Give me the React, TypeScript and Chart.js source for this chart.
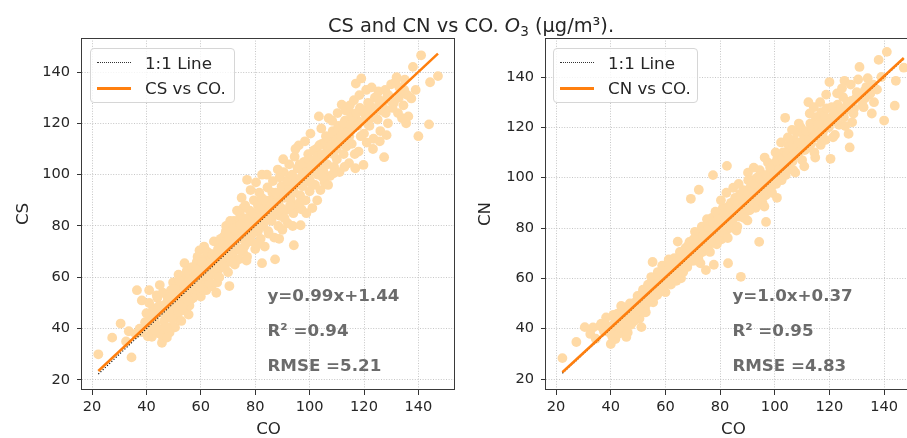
import React, { useEffect, useRef } from 'react';
import { Chart, registerables } from 'chart.js';

Chart.register(...registerables);

// ---- data ----
// CO values shared by both panels (x axis)
const coValues: number[] = [
  22.3, 27.4, 30.5, 33.5, 32.5, 34.5, 36.0,
  36.5, 38.3, 38.3, 40.0, 41.0, 41.7, 42.0, 43.0, 44.5, 44.9, 45.6, 45.7, 39.5, 42.5, 44.0, 40.5, 43.5, 46.5, 47.0, 45.0, 37.5, 41.5, 47.5,
  48.0, 48.5, 49.0, 49.5, 50.0, 50.5, 51.0, 51.2, 51.5, 52.0, 52.5, 53.0, 53.5, 54.0, 54.5, 55.0, 55.3, 55.5, 56.0, 56.5, 57.0, 49.0, 52.0, 54.0, 56.0,
  57.5, 58.0, 58.5, 59.0, 59.5, 60.0, 60.5, 61.0, 61.5, 62.0, 62.5, 63.0, 63.5, 64.0, 64.5, 65.0, 65.7, 66.0, 66.5, 67.0, 58.0, 60.0, 62.0, 64.0, 66.0,
  67.5, 68.0, 68.5, 69.0, 69.3, 69.5, 70.0, 70.5, 71.0, 71.5, 72.0, 72.2, 72.5, 73.0, 73.5, 74.0, 74.5, 74.8, 75.0, 75.5, 75.6, 76.0, 76.5, 77.0, 77.0, 77.4, 77.7, 68.0, 70.0, 72.0, 74.0, 76.0,
  78.0, 78.5, 79.0, 79.5, 80.0, 80.5, 81.0, 81.5, 82.0, 82.5, 82.5, 82.9, 83.0, 83.5, 84.0, 84.5, 85.0, 85.5, 86.0, 86.5, 87.0, 87.3, 87.6, 88.0, 88.5, 89.0, 89.5, 90.0, 90.2, 79.0, 81.0, 83.0, 85.0, 87.0, 89.0,
  90.5, 91.0, 91.5, 92.0, 92.5, 93.0, 93.5, 94.0, 94.2, 94.3, 94.5, 95.0, 95.5, 96.0, 96.5, 96.7, 96.8, 97.0, 97.5, 98.0, 98.5, 99.0, 99.5, 100.0, 100.5, 101.0, 101.5, 92.0, 95.0, 98.0, 100.0,
  102.0, 102.5, 103.0, 103.4, 103.8, 104.0, 104.5, 105.0, 105.5, 106.0, 106.5, 107.0, 107.5, 108.0, 108.5, 109.0, 109.5, 110.0, 110.5, 111.0, 111.8, 112.3, 112.5, 113.0, 113.5, 114.0, 114.5, 115.0, 104.0, 106.0, 108.0, 110.0, 112.0,
  115.5, 116.0, 116.8, 117.0, 117.5, 118.0, 118.5, 119.0, 119.8, 120.0, 120.4, 121.0, 121.5, 122.0, 123.0, 123.5, 124.0, 125.0, 125.3, 125.5, 126.0, 127.0, 127.4, 128.0, 128.3, 129.0, 130.0, 122.5, 126.5,
  131.0, 131.5, 132.5, 133.5, 134.5, 135.5, 136.3, 137.4, 138.0, 139.0, 140.0, 141.0, 143.9, 144.3, 147.2, 133.0, 136.0,
  41.0, 42.8, 43.8, 46.0, 46.2, 47.8, 48.5, 49.8, 50.6, 51.8, 52.8, 53.8, 54.8, 55.8, 56.8, 57.2, 58.8, 59.2, 60.8, 61.2,
  62.8, 63.2, 64.8, 65.3, 66.8, 67.3, 68.8, 69.2, 70.8, 71.3, 72.8, 73.3, 74.3, 75.2, 76.3, 76.8, 78.3, 78.8, 80.3, 80.8,
  82.3, 82.8, 84.3, 84.8, 86.3, 86.8, 88.3, 88.8, 90.3, 90.8, 92.3, 92.8, 94.8, 93.8, 96.3, 96.2, 98.3, 98.8, 100.3, 100.8,
  102.3, 102.8, 104.3, 104.8, 106.3, 106.8, 108.3, 108.8, 110.3, 110.8, 112.8, 113.3, 114.3, 114.8, 116.3, 116.6, 118.3, 118.8, 120.8, 121.3,
  122.8, 123.3, 124.6, 125.8, 127.8, 128.8, 130.5, 132.0, 134.0, 135.0,
  42.2, 45.3, 48.2, 51.3, 54.2, 57.3, 60.2, 63.3, 66.2, 69.6, 72.6, 75.3, 78.6, 81.3, 84.6,
  87.8, 90.6, 93.3, 96.6, 99.3, 102.6, 105.3, 108.6, 111.3, 114.6, 117.6, 120.6, 123.6, 126.6, 129.6,
  43.2, 44.8, 46.8, 47.3, 48.8, 49.3, 50.3, 51.6, 52.2, 53.2, 53.6, 55.2,
  56.2, 57.6, 58.3, 59.6, 60.6, 61.6, 62.3, 63.7, 64.3, 65.6, 66.3, 67.7,
  68.3, 69.8, 70.3, 71.7, 72.3, 73.7, 74.6, 75.8, 76.6, 77.5, 78.2, 79.3,
  80.2, 81.7, 82.6, 83.7, 84.2, 85.7, 86.6, 87.6, 88.6, 89.7, 90.8, 91.7,
  92.6, 93.6, 94.7, 95.6, 96.9, 97.7, 98.6, 99.7, 100.6, 101.6, 102.9, 103.6,
  104.6, 105.8, 106.7, 107.8, 108.7, 109.7, 110.7, 111.6, 112.6, 113.7, 114.9, 115.8,
  117.3, 118.6, 119.5, 121.8, 122.2, 124.3, 125.2, 127.2, 128.6, 130.2, 132.8, 134.8,
];

// CS values (left panel, y axis)
const csValues: number[] = [
  30.0, 36.5, 42.0, 39.0, 35.0, 28.8, 38.0,
  55.0, 51.0, 38.7, 46.0, 55.0, 40.0, 36.8, 44.0, 38.2, 57.0, 37.5, 34.5, 42.5, 48.0, 52.0, 37.0, 41.5, 43.0, 49.5, 46.5, 40.0, 43.0, 36.5,
  51.0, 45.0, 55.0, 41.0, 48.0, 40.5, 58.0, 44.0, 52.0, 46.5, 55.5, 50.0, 60.0, 65.5, 47.0, 53.0, 58.5, 45.5, 61.0, 51.5, 56.0, 47.5, 53.5, 50.0, 55.0,
  62.0, 54.0, 66.0, 58.5, 70.5, 52.5, 62.5, 57.0, 67.5, 55.0, 63.5, 60.0, 69.0, 56.5, 65.0, 61.0, 54.0, 68.0, 63.0, 72.0, 59.5, 64.5, 59.0, 62.5, 58.0,
  64.0, 70.5, 76.0, 66.5, 80.0, 73.0, 62.0, 56.6, 78.0, 68.5, 74.0, 82.0, 65.0, 79.5, 71.0, 67.0, 84.0, 75.5, 91.0, 70.0, 87.0, 79.0, 73.0, 98.0, 68.0, 82.5, 76.5, 67.5, 71.5, 70.0, 76.0, 72.0,
  86.0, 74.0, 81.0, 90.0, 71.0, 84.0, 78.0, 93.0, 75.0, 65.5, 100.0, 88.0, 80.0, 72.0, 86.5, 95.0, 77.0, 90.0, 82.0, 97.5, 75.5, 67.0, 85.0, 92.0, 80.0, 99.0, 87.0, 78.5, 94.0, 77.0, 88.0, 84.0, 83.0, 89.0, 84.0,
  101.0, 86.0, 95.0, 81.0, 104.0, 90.5, 99.0, 85.0, 72.5, 93.0, 107.0, 88.0, 97.0, 111.4, 92.0, 80.3, 102.0, 86.5, 95.5, 105.0, 90.0, 99.0, 108.0, 93.5, 101.0, 87.0, 104.5, 93.0, 96.0, 97.0, 98.0,
  96.0, 110.0, 100.0, 122.7, 105.0, 94.0, 112.0, 101.5, 97.0, 115.0, 104.0, 122.0, 99.5, 109.0, 117.0, 103.0, 112.5, 106.0, 119.0, 101.0, 127.3, 114.0, 108.0, 121.0, 111.0, 117.5, 104.5, 124.0, 104.0, 108.0, 113.0, 110.0, 118.0,
  112.0, 118.5, 102.5, 135.5, 121.0, 109.0, 126.0, 137.5, 103.8, 116.0, 123.5, 112.5, 128.0, 119.0, 124.5, 114.0, 130.0, 121.5, 132.4, 126.5, 117.0, 128.5, 106.8, 124.0, 115.4, 131.0, 135.2, 122.0, 125.0,
  128.0, 136.0, 124.0, 131.5, 127.0, 120.0, 122.7, 129.7, 142.0, 133.0, 115.0, 146.5, 119.6, 136.0, 138.4, 134.0, 131.0,
  50.0, 46.0, 53.0, 54.0, 40.0, 52.0, 38.5, 58.0, 50.5, 61.0, 43.0, 57.0, 62.5, 49.0, 64.0, 52.0, 68.0, 61.0, 55.0, 72.0,
  66.0, 58.0, 74.0, 67.0, 60.0, 75.0, 64.0, 78.0, 82.0, 66.0, 76.5, 86.0, 70.5, 81.0, 88.0, 66.5, 94.0, 79.0, 97.0, 73.0,
  91.0, 81.0, 100.0, 78.0, 93.0, 84.5, 102.0, 75.0, 106.0, 83.0, 98.0, 88.0, 110.0, 80.0, 104.0, 89.0, 113.0, 85.0, 116.0, 96.5,
  106.0, 90.0, 118.0, 99.0, 111.0, 96.0, 121.0, 100.5, 124.0, 113.5, 103.0, 125.0, 112.0, 127.0, 129.0, 108.0, 131.0, 115.0, 133.0, 120.0,
  134.0, 110.0, 126.0, 113.0, 133.0, 120.0, 126.0, 138.0, 122.0, 137.0,
  43.5, 47.5, 49.5, 53.5, 56.0, 59.0, 61.5, 65.5, 66.0, 71.0, 73.0, 77.5, 79.5, 83.0, 85.5,
  89.0, 91.5, 94.5, 97.5, 101.5, 103.5, 107.0, 108.0, 112.0, 115.0, 119.0, 121.0, 123.0, 127.5, 129.0,
  39.5, 49.0, 45.5, 40.5, 52.5, 44.0, 55.5, 46.5, 58.5, 48.5, 53.5, 51.0,
  58.0, 55.5, 63.0, 56.0, 66.0, 60.5, 70.0, 62.0, 69.0, 64.0, 71.0, 67.0,
  73.5, 69.0, 75.5, 72.5, 79.0, 75.0, 80.5, 76.0, 83.0, 79.5, 82.5, 85.0,
  80.0, 86.5, 84.0, 90.0, 82.5, 88.0, 86.0, 93.0, 88.5, 95.5, 91.0, 97.5,
  94.0, 100.0, 96.5, 102.5, 99.0, 104.0, 101.0, 106.0, 103.5, 109.5, 107.0, 111.5,
  108.0, 112.5, 114.5, 111.5, 116.0, 113.5, 117.5, 115.0, 120.0, 116.5, 119.5, 122.5,
  124.0, 120.5, 125.0, 124.5, 127.0, 125.5, 129.5, 126.0, 130.5, 128.5, 130.0, 133.0,
];

// CN values (right panel, y axis)
const cnValues: number[] = [
  28.3, 34.7, 40.6, 40.5, 37.9, 36.0, 41.0,
  42.0, 44.5, 41.5, 33.9, 45.5, 35.9, 40.0, 44.0, 42.0, 48.5, 39.0, 36.7, 38.5, 46.0, 47.0, 37.0, 41.0, 44.5, 50.0, 43.0, 39.0, 42.5, 42.0,
  47.5, 49.0, 50.5, 46.0, 51.0, 44.0, 52.5, 40.6, 54.0, 49.5, 48.0, 55.5, 53.0, 57.0, 52.0, 58.5, 66.5, 50.5, 55.0, 60.0, 53.5, 45.0, 51.0, 56.0, 57.5,
  58.0, 61.5, 56.0, 63.0, 59.5, 54.5, 65.5, 60.5, 62.0, 57.5, 67.0, 61.0, 64.5, 59.0, 74.6, 63.5, 60.0, 68.5, 62.5, 66.0, 58.5, 62.5, 64.0, 66.0, 64.5,
  67.5, 70.0, 66.5, 72.5, 91.6, 69.0, 74.0, 67.0, 71.5, 76.5, 68.0, 95.2, 73.5, 78.0, 70.5, 75.5, 80.0, 63.3, 77.5, 72.0, 82.0, 76.0, 79.5, 84.0, 74.0, 101.0, 65.4, 64.5, 70.0, 72.0, 73.0, 78.0,
  80.5, 77.0, 85.0, 79.0, 83.0, 75.5, 88.0, 81.5, 78.0, 104.7, 86.5, 66.0, 84.0, 80.0, 90.0, 82.5, 87.0, 92.0, 79.0, 89.0, 84.5, 93.5, 60.6, 88.0, 95.0, 86.0, 91.0, 83.0, 102.0, 76.0, 82.0, 88.5, 85.5, 90.5, 87.5,
  92.5, 96.0, 89.0, 99.0, 94.0, 88.0, 100.0, 92.0, 97.0, 74.5, 103.0, 95.5, 90.0, 101.0, 97.5, 93.0, 82.4, 99.5, 106.0, 96.0, 102.5, 94.0, 100.5, 105.0, 97.5, 108.0, 100.0, 92.0, 98.0, 99.0, 101.0,
  103.5, 99.0, 110.0, 106.0, 123.8, 101.0, 108.5, 113.0, 104.0, 110.5, 106.5, 115.0, 102.0, 118.0, 109.0, 112.5, 120.0, 107.0, 114.0, 111.0, 117.0, 130.0, 112.0, 121.5, 115.5, 119.0, 110.0, 124.0, 105.5, 107.5, 110.0, 113.0, 116.5,
  116.0, 122.0, 113.0, 126.0, 118.5, 124.5, 115.0, 127.5, 120.0, 138.0, 107.5, 122.5, 125.0, 117.0, 129.0, 121.0, 126.5, 132.0, 124.0, 138.5, 127.0, 117.4, 112.0, 130.5, 122.0, 127.5, 134.0, 124.0, 128.5,
  144.0, 131.0, 128.0, 136.0, 133.0, 125.5, 130.0, 135.0, 146.8, 140.0, 122.7, 150.0, 128.6, 138.5, 143.7, 131.5, 137.0,
  45.0, 38.0, 49.0, 45.5, 38.5, 46.0, 43.0, 53.0, 47.0, 55.5, 46.5, 51.5, 60.5, 54.0, 56.5, 62.5, 65.0, 57.0, 63.5, 67.5,
  59.5, 68.0, 61.5, 70.5, 65.0, 72.0, 74.5, 68.0, 78.5, 70.5, 66.0, 80.5, 77.0, 83.5, 70.5, 81.0, 86.5, 73.5, 91.0, 78.5,
  94.0, 76.0, 85.0, 96.0, 80.5, 97.5, 91.5, 84.0, 99.0, 87.0, 104.0, 90.5, 95.0, 93.5, 108.0, 88.5, 104.0, 96.5, 110.0, 92.0,
  114.0, 100.5, 104.0, 116.0, 119.0, 103.0, 112.0, 121.5, 117.5, 104.5, 125.5, 113.5, 128.0, 108.0, 119.5, 130.0, 121.0, 133.0, 128.0, 116.0,
  133.5, 125.5, 135.5, 120.5, 137.0, 125.5, 139.0, 129.0, 139.5, 133.5,
  43.0, 46.0, 48.5, 51.5, 55.0, 58.5, 61.0, 63.5, 67.5, 70.5, 73.0, 76.5, 80.0, 82.0, 86.5,
  88.5, 92.0, 94.5, 98.0, 100.5, 103.0, 106.5, 111.0, 113.0, 116.5, 118.0, 123.0, 125.0, 130.0, 131.5,
  40.5, 42.5, 48.0, 41.5, 44.0, 50.5, 48.0, 53.0, 46.5, 50.0, 57.5, 52.5,
  53.0, 60.5, 55.5, 60.0, 58.0, 65.0, 61.5, 66.5, 62.0, 69.0, 65.5, 68.5,
  73.0, 67.0, 75.5, 72.5, 69.5, 77.0, 74.5, 80.5, 75.0, 82.0, 78.5, 83.5,
  81.0, 86.0, 83.0, 88.5, 84.0, 90.5, 86.0, 92.5, 89.0, 94.5, 90.0, 95.0,
  97.5, 93.0, 99.5, 96.5, 101.0, 98.5, 103.5, 101.5, 106.5, 103.0, 107.5, 104.5,
  109.5, 108.0, 111.5, 109.5, 114.0, 111.0, 115.5, 118.5, 114.5, 119.5, 117.5, 121.0,
  118.5, 124.0, 121.5, 126.0, 122.5, 127.5, 125.5, 129.0, 127.0, 132.5, 134.5, 135.5,
];

const tickValues: number[] = [20, 40, 60, 80, 100, 120, 140];

const csFit = { slope: 0.99, intercept: 1.44 };
const cnFit = { slope: 1.0, intercept: 0.37 };

const csStats: string[] = ['y=0.99x+1.44', 'R² =0.94', 'RMSE =5.21'];
const cnStats: string[] = ['y=1.0x+0.37', 'R² =0.95', 'RMSE =4.83'];

// ---- styles / layout ----
const FONT = 'DejaVu Sans';
const TEXT = '#262626';
const POINT = '#ffdaa6';
const ORANGE = '#ff7f0e';
const STAT_COLOR = '#6b6b6b';
const statFractions = [0.264, 0.165, 0.066];
const X_RANGE = { min: 16.3, max: 153.5 };

type Fit = { slope: number; intercept: number };

function makeStatsPlugin(lines: string[]) {
  return {
    id: 'stats',
    afterDatasetsDraw(chart: any) {
      const { ctx, chartArea } = chart;
      const { left, right, top, bottom } = chartArea;
      const w = right - left;
      const h = bottom - top;
      ctx.save();
      ctx.font = `bold 16.7px "${FONT}"`;
      ctx.fillStyle = STAT_COLOR;
      ctx.textAlign = 'left';
      ctx.textBaseline = 'middle';
      lines.forEach((t, i) => ctx.fillText(t, left + 0.497 * w, bottom - statFractions[i] * h));
      ctx.restore();
    },
  };
}

const framePlugin = {
  id: 'frame',
  afterDraw(chart: any) {
    const { ctx, chartArea } = chart;
    const { left, right, top, bottom } = chartArea;
    ctx.save();
    ctx.strokeStyle = '#3a3a3a';
    ctx.lineWidth = 1;
    ctx.strokeRect(Math.round(left) - 0.5, Math.round(top) + 0.5, Math.round(right - left), Math.round(bottom - top) - 1);
    ctx.restore();
  },
};

type PanelProps = {
  left: number;
  width: number;
  yValues: number[];
  fit: Fit;
  stats: string[];
  yLabel: string;
  seriesLabel: string;
  yMin: number;
  yMax: number;
  padRight: number;
  yAxisWidth: number;
  yTitlePad: number;
};

function Panel(p: PanelProps) {
  const ref = useRef<HTMLCanvasElement>(null);
  useEffect(() => {
    if (!ref.current) return;
    const n = Math.min(coValues.length, p.yValues.length);
    const xs = coValues.slice(0, n);
    const xMin = Math.min(...xs);
    const xMax = Math.max(...xs);
    const tickFont = { family: FONT, size: 14.6 };
    const titleFont = { family: FONT, size: 16.7, lineHeight: 1 };
    const gridOpts = {
      color: '#b8b8b8',
      lineWidth: 0.8,
      drawTicks: true,
      tickLength: 5,
      tickColor: '#333333',
      tickWidth: 1,
      tickBorderDash: [],
    };
    const chart = new Chart(ref.current, {
      type: 'scatter',
      data: {
        datasets: [
          {
            label: '1:1 Line',
            data: [{ x: xMin, y: xMin }, { x: xMax, y: xMax }],
            showLine: true,
            borderColor: '#1a1a1a',
            borderWidth: 1.2,
            borderDash: [1.2, 1.8],
            pointRadius: 0,
            order: 2,
          },
          {
            label: p.seriesLabel,
            data: [
              { x: xMin, y: p.fit.slope * xMin + p.fit.intercept },
              { x: xMax, y: p.fit.slope * xMax + p.fit.intercept },
            ],
            showLine: true,
            borderColor: ORANGE,
            borderWidth: 2.5,
            pointRadius: 0,
            order: 1,
          },
          {
            label: 'points',
            data: xs.map((x, i) => ({ x, y: p.yValues[i] })),
            backgroundColor: POINT,
            borderWidth: 0,
            pointRadius: 4.9,
            order: 3,
          },
        ],
      } as any,
      options: {
        animation: false,
        responsive: false,
        events: [],
        layout: { padding: { top: 38, right: p.padRight, bottom: 0, left: 0 } },
        plugins: { legend: { display: false }, tooltip: { enabled: false }, title: { display: false } },
        scales: {
          x: {
            type: 'linear',
            min: X_RANGE.min,
            max: X_RANGE.max,
            afterBuildTicks: (s: any) => {
              s.ticks = tickValues.map((v) => ({ value: v }));
            },
            afterFit: (s: any) => {
              s.height = 48;
            },
            ticks: { font: tickFont, color: TEXT, padding: 3.7, maxRotation: 0, callback: (v: any) => String(v) },
            grid: gridOpts,
            border: { display: false, dash: [1, 1.6] },
            title: { display: true, text: 'CO', font: titleFont, color: TEXT, padding: { top: 0, bottom: 0 } },
          },
          y: {
            type: 'linear',
            min: p.yMin,
            max: p.yMax,
            afterBuildTicks: (s: any) => {
              s.ticks = tickValues.map((v) => ({ value: v }));
            },
            afterFit: (s: any) => {
              s.width = p.yAxisWidth;
            },
            ticks: { font: tickFont, color: TEXT, padding: 7, callback: (v: any) => String(v) },
            grid: gridOpts,
            border: { display: false, dash: [1, 1.6] },
            title: { display: true, text: p.yLabel, font: titleFont, color: TEXT, padding: { top: p.yTitlePad, bottom: 0 } },
          },
        },
      } as any,
      plugins: [makeStatsPlugin(p.stats), framePlugin],
    });
    return () => chart.destroy();
  }, []);
  return (
    <canvas
      ref={ref}
      width={p.width}
      height={438}
      style={{ position: 'absolute', left: p.left, top: 0, width: p.width, height: 438, display: 'block' }}
    />
  );
}

function Legend(props: { left: number; label: string }) {
  const rowText = (top: number, text: string) => (
    <div
      style={{
        position: 'absolute',
        left: 54,
        top: top - 10,
        height: 20,
        lineHeight: '20px',
        fontSize: 16.7,
        color: TEXT,
        whiteSpace: 'nowrap',
      }}
    >
      {text}
    </div>
  );
  return (
    <div
      style={{
        position: 'absolute',
        left: props.left,
        top: 48,
        width: 145,
        height: 55,
        boxSizing: 'border-box',
        border: '1px solid #d6d6d6',
        borderRadius: 4,
        background: 'rgba(255,255,255,0.8)',
        fontFamily: FONT,
      }}
    >
      <div style={{ position: 'absolute', left: 6, top: 13, width: 34, height: 0, borderTop: '1.2px dotted #333' }} />
      {rowText(13.7, '1:1 Line')}
      <div style={{ position: 'absolute', left: 6, top: 38.2, width: 34, height: 2.5, background: ORANGE }} />
      {rowText(39.3, props.label)}
    </div>
  );
}

export default function App() {
  return (
    <div
      style={{
        position: 'fixed',
        left: 0,
        top: 0,
        width: 907,
        height: 438,
        overflow: 'hidden',
        background: '#ffffff',
        fontFamily: FONT,
      }}
    >
      <Panel
        left={0}
        width={460}
        yValues={csValues}
        fit={csFit}
        stats={csStats}
        yLabel="CS"
        seriesLabel="CS vs CO."
        yMin={16.1}
        yMax={153.25}
        padRight={3}
        yAxisWidth={82}
        yTitlePad={15}
      />
      <Panel
        left={460}
        width={470}
        yValues={cnValues}
        fit={cnFit}
        stats={cnStats}
        yLabel="CN"
        seriesLabel="CN vs CO."
        yMin={15.63}
        yMax={155.5}
        padRight={9}
        yAxisWidth={86}
        yTitlePad={17}
      />
      <div
        style={{
          position: 'absolute',
          left: 0,
          top: 16.1,
          width: 942,
          textAlign: 'center',
          fontSize: 19.4,
          lineHeight: '19.4px',
          color: TEXT,
          whiteSpace: 'nowrap',
        }}
      >
        CS and CN vs CO. <i>O</i>
        <span style={{ position: 'relative', top: 3.5, fontSize: '0.7em' }}>3</span> (µg/m³).
      </div>
      <Legend left={90} label="CS vs CO." />
      <Legend left={553} label="CN vs CO." />
    </div>
  );
}
